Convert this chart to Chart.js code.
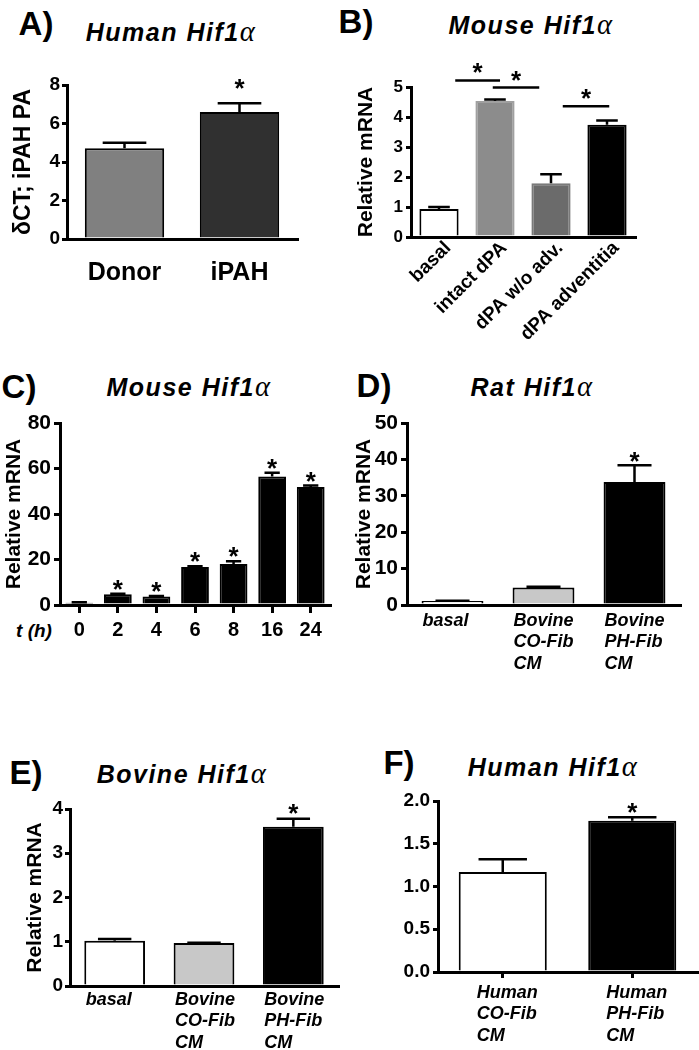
<!DOCTYPE html>
<html><head><meta charset="utf-8">
<script src="https://cdn.jsdelivr.net/npm/chart.js@4.4.1/dist/chart.umd.min.js"></script>
<style>
html,body{margin:0;padding:0;background:#fff;}
body{width:699px;height:1050px;position:relative;overflow:hidden;font-family:"Liberation Sans",Arial,sans-serif;}
canvas{position:absolute;}
.lbl{position:absolute;transform:translate(-50%,-50%);font-weight:bold;line-height:1;white-space:nowrap;color:#000;}
.letter{font-size:33px;}
.ttl{font-size:25px;font-style:italic;letter-spacing:1.5px;}
.alpha{font-family:"Liberation Serif","DejaVu Serif",serif;font-style:italic;font-weight:normal;font-size:1.15em;}
.th{font-size:19px;font-style:italic;}
</style></head><body>
<div class="lbl letter" style="left:36px;top:23px">A)</div>
<div class="lbl ttl" style="left:171px;top:31px">Human Hif1<span class="alpha">α</span></div>
<div class="lbl letter" style="left:356px;top:21px">B)</div>
<div class="lbl ttl" style="left:531px;top:24px">Mouse Hif1<span class="alpha">α</span></div>
<div class="lbl letter" style="left:19px;top:386px">C)</div>
<div class="lbl ttl" style="left:189px;top:386px">Mouse Hif1<span class="alpha">α</span></div>
<div class="lbl letter" style="left:374px;top:385px">D)</div>
<div class="lbl ttl" style="left:532px;top:386px">Rat Hif1<span class="alpha">α</span></div>
<div class="lbl letter" style="left:26px;top:772px">E)</div>
<div class="lbl ttl" style="left:182px;top:773px">Bovine Hif1<span class="alpha">α</span></div>
<div class="lbl letter" style="left:399px;top:762px">F)</div>
<div class="lbl ttl" style="left:553px;top:766px">Human Hif1<span class="alpha">α</span></div>
<div class="lbl th" style="left:34px;top:630px">t (h)</div>
<script>
const FONT = '"Liberation Sans", Arial, sans-serif';

// ---- Panel A: Human Hif1a (dCT) ----
const aCategories = ['Donor', 'iPAH'];
const aValues = [4.71, 6.60];
const aSem = [0.29, 0.45];
const aStars = ['', '*'];

// ---- Panel B: Mouse Hif1a, tissue ----
const bCategories = ['basal', 'intact dPA', 'dPA w/o adv.', 'dPA adventitia'];
const bValues = [0.93, 4.53, 1.79, 3.74];
const bSem = [0.07, 0.05, 0.30, 0.14];
const bBracketFrom = [0.29, 0.96, 2.21];
const bBracketTo = [1.09, 1.79, 3.04];
const bBracketLevel = [5.22, 4.98, 4.36];

// ---- Panel C: Mouse Hif1a, time course ----
const cCategories = ['0', '2', '4', '6', '8', '16', '24'];
const cValues = [1.0, 4.7, 3.7, 16.7, 18.0, 56.5, 51.9];
const cSem = [0.2, 0.3, 0.3, 0.3, 1.2, 1.6, 0.6];
const cStars = ['', '*', '*', '*', '*', '*', '*'];

// ---- Panel D: Rat Hif1a ----
const dCategories = [['basal'], ['Bovine', 'CO-Fib', 'CM'], ['Bovine', 'PH-Fib', 'CM']];
const dValues = [1.1, 4.8, 33.8];
const dSem = [0.1, 0.2, 4.6];
const dStars = ['', '', '*'];

// ---- Panel E: Bovine Hif1a ----
const eCategories = [['basal'], ['Bovine', 'CO-Fib', 'CM'], ['Bovine', 'PH-Fib', 'CM']];
const eValues = [1.02, 0.97, 3.60];
const eSem = [0.04, 0.01, 0.18];
const eStars = ['', '', '*'];

// ---- Panel F: Human Hif1a ----
const fCategories = [['Human', 'CO-Fib', 'CM'], ['Human', 'PH-Fib', 'CM']];
const fValues = [1.17, 1.77];
const fSem = [0.15, 0.04];
const fStars = ['', '*'];

const STAR_SIZE = 26;

function drawStar(ctx, cx, cy, size) {
  ctx.font = 'bold ' + size + 'px ' + FONT;
  ctx.textAlign = 'center';
  ctx.textBaseline = 'alphabetic';
  ctx.fillText('*', cx, cy + size * 0.58);
}

const hifMarks = {
  id: 'hifMarks',
  afterDatasetsDraw(chart, args, opts) {
    const ctx = chart.ctx;
    const meta = chart.getDatasetMeta(0);
    const ys = chart.scales.y, xs = chart.scales.x;
    const vals = chart.data.datasets[0].data;
    ctx.save();
    ctx.strokeStyle = '#000';
    ctx.fillStyle = '#000';
    ctx.lineWidth = 2.5;
    meta.data.forEach((bar, i) => {
      const sem = opts.sem[i];
      const top = ys.getPixelForValue(vals[i]);
      const capY = ys.getPixelForValue(vals[i] + sem);
      const half = bar.width * 0.55 / 2;
      ctx.beginPath();
      ctx.moveTo(bar.x, top); ctx.lineTo(bar.x, capY);
      ctx.moveTo(bar.x - half, capY); ctx.lineTo(bar.x + half, capY);
      ctx.stroke();
      if (opts.stars && opts.stars[i]) drawStar(ctx, bar.x, capY - opts.starGap, STAR_SIZE);
    });
    (opts.brackets || []).forEach(b => {
      const py = ys.getPixelForValue(b.level);
      const x1 = xs.getPixelForValue(b.from), x2 = xs.getPixelForValue(b.to);
      ctx.beginPath(); ctx.moveTo(x1, py); ctx.lineTo(x2, py); ctx.stroke();
      drawStar(ctx, (x1 + x2) / 2, py - opts.starGap, STAR_SIZE);
    });
    ctx.restore();
  }
};

function makePanel(c) {
  const cv = document.createElement('canvas');
  cv.width = c.box.w; cv.height = c.box.h;
  cv.style.left = c.box.x + 'px'; cv.style.top = c.box.y + 'px';
  document.body.appendChild(cv);
  const xTicks = Object.assign({
    color: '#000', autoSkip: false, maxRotation: 0, minRotation: 0,
    font: { family: FONT, weight: 'bold', size: c.xFont, style: c.xItalic ? 'italic' : 'normal' },
    padding: c.xPad
  }, c.xTickExtra || {});
  return new Chart(cv, {
    type: 'bar',
    data: {
      labels: c.labels,
      datasets: [{
        data: c.values, backgroundColor: c.fill, borderColor: c.border,
        borderWidth: 2, barPercentage: c.barPct, categoryPercentage: 1
      }]
    },
    options: {
      responsive: false, animation: false, devicePixelRatio: 1,
      layout: { padding: { left: 0, top: c.padT, right: c.padR, bottom: 0 } },
      plugins: {
        legend: { display: false }, tooltip: { enabled: false },
        hifMarks: { sem: c.sem, stars: c.stars, starGap: c.starGap, brackets: c.brackets }
      },
      scales: {
        x: {
          offset: true,
          grid: { display: true, drawOnChartArea: false, offset: false,
                  drawTicks: !!c.xTickLen, tickLength: c.xTickLen || 0, lineWidth: 3, color: '#000' },
          border: { display: true, width: 3, color: '#000', z: 1 },
          ticks: xTicks,
          afterFit: s => { s.height = c.hx; }
        },
        y: {
          min: c.yMin, max: c.yMax,
          grid: { display: true, drawOnChartArea: false, drawTicks: true, tickLength: c.yTickLen, lineWidth: 3, color: '#000' },
          border: { display: true, width: 3, color: '#000', z: 1 },
          ticks: {
            stepSize: c.yStep, color: '#000', padding: c.yPad,
            font: { family: FONT, weight: 'bold', size: c.yFont },
            callback: c.yFmt || (v => v)
          },
          title: {
            display: !!c.yTitle, text: c.yTitle || '', color: '#000', padding: 0,
            font: { family: FONT, weight: 'bold', size: c.yTitleSize || 21 }
          },
          afterFit: s => { s.width = c.wy; }
        }
      }
    },
    plugins: [hifMarks]
  });
}

makePanel({
  box: { x: 10, y: 65, w: 307, h: 229 }, wy: 57, hx: 55, padT: 20, padR: 20,
  labels: aCategories, values: aValues, sem: aSem, stars: aStars, starGap: 21,
  fill: ['#808080', '#303030'], border: '#000', barPct: 0.69,
  yMin: 0, yMax: 8, yStep: 2, yFont: 19, yTickLen: 5, yPad: 2, yTitle: 'δCT; iPAH PA', yTitleSize: 23,
  xFont: 25, xPad: 19
});

makePanel({
  box: { x: 354, y: 52, w: 311, h: 300 }, wy: 57, hx: 115, padT: 35, padR: 30,
  labels: bCategories, values: bValues, sem: bSem, stars: null, starGap: 14,
  brackets: bBracketFrom.map((f, i) => ({ from: f, to: bBracketTo[i], level: bBracketLevel[i] })),
  fill: ['#ffffff', '#8c8c8c', '#6b6b6b', '#000000'], border: ['#000', '#a0a0a0', '#7a7a7a', '#000'], barPct: 0.70,
  yMin: 0, yMax: 5, yStep: 1, yFont: 17, yTickLen: 5, yPad: 3, yTitle: 'Relative mRNA',
  xFont: 19, xPad: 0, xTickExtra: { minRotation: 45, maxRotation: 45, labelOffset: 9 }
});

makePanel({
  box: { x: 2, y: 403, w: 348, h: 242 }, wy: 58, hx: 40, padT: 20, padR: 20,
  labels: cCategories, values: cValues, sem: cSem, stars: cStars, starGap: 11,
  fill: '#000', border: '#000', barPct: 0.72,
  yMin: 0, yMax: 80, yStep: 20, yFont: 21, yTickLen: 6, yPad: 3, yTitle: 'Relative mRNA',
  xFont: 20, xPad: 5, xTickLen: 8
});

makePanel({
  box: { x: 352, y: 403, w: 358, h: 277 }, wy: 55, hx: 75, padT: 20, padR: 30,
  labels: dCategories, values: dValues, sem: dSem, stars: dStars, starGap: 10,
  fill: ['#ffffff', '#c8c8c8', '#000000'], border: '#000', barPct: 0.68,
  yMin: 0, yMax: 50, yStep: 10, yFont: 21, yTickLen: 6, yPad: 3, yTitle: 'Relative mRNA',
  xFont: 18, xItalic: true, xPad: 5, xTickExtra: { align: 'start', labelOffset: -30 }
});

makePanel({
  box: { x: 23, y: 779, w: 345, h: 271 }, wy: 47, hx: 64, padT: 30, padR: 30,
  labels: eCategories, values: eValues, sem: eSem, stars: eStars, starGap: 12,
  fill: ['#ffffff', '#c8c8c8', '#000000'], border: '#000', barPct: 0.68,
  yMin: 0, yMax: 4, yStep: 1, yFont: 19, yTickLen: 5, yPad: 2, yTitle: 'Relative mRNA',
  xFont: 18, xItalic: true, xPad: 3, xTickExtra: { align: 'start', labelOffset: -29 }
});

makePanel({
  box: { x: 378, y: 781, w: 339, h: 269 }, wy: 60, hx: 78, padT: 20, padR: 20,
  labels: fCategories, values: fValues, sem: fSem, stars: fStars, starGap: 11,
  fill: ['#ffffff', '#000000'], border: '#000', barPct: 0.68,
  yMin: 0, yMax: 2, yStep: 0.5, yFont: 19, yTickLen: 5, yPad: 3, yTitle: null,
  yFmt: v => Number(v).toFixed(1),
  xFont: 18, xItalic: true, xPad: 4, xTickLen: 6, xTickExtra: { align: 'start', labelOffset: -26 }
});
</script>
</body></html>
